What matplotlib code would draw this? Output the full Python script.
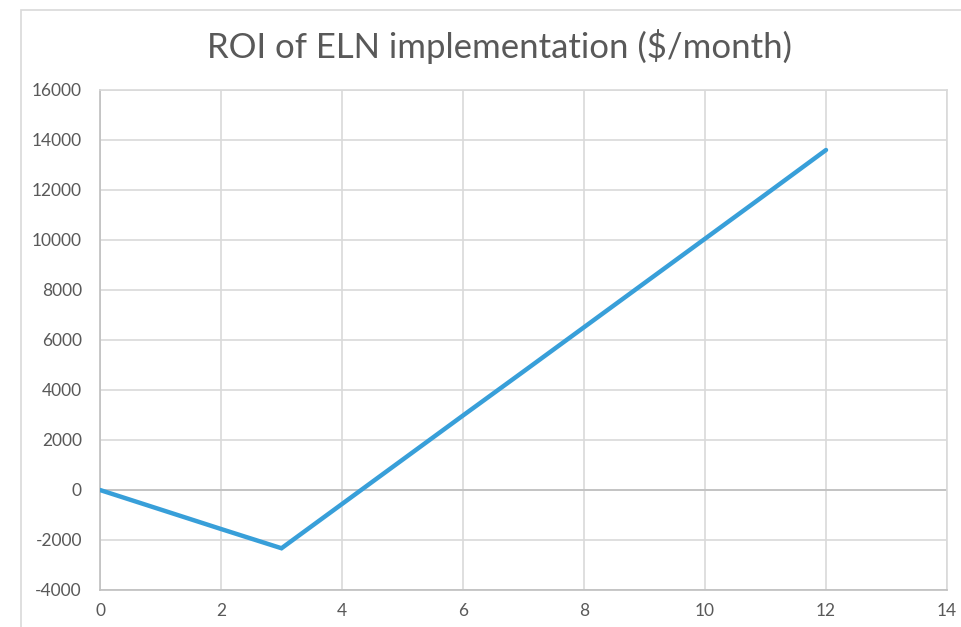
import matplotlib
matplotlib.use("Agg")
import matplotlib.pyplot as plt
from matplotlib.patches import Rectangle

# ROI per month after ELN rollout
months = [0, 1, 2, 3, 4, 5, 6, 7, 8, 9, 10, 11, 12]
roi = [0, -780, -1560, -2330, -560, 1210, 2980, 4740, 6510, 8280, 10050, 11820, 13600]

x_ticks = [0, 2, 4, 6, 8, 10, 12, 14]
y_ticks = [-4000, -2000, 0, 2000, 4000, 6000, 8000, 10000, 12000, 14000, 16000]

plt.rcParams["font.family"] = ["Lato", "DejaVu Sans"]
plt.rcParams["axes.unicode_minus"] = False

text_color = "#595959"
grid_color = "#d9d9d9"

fig = plt.figure(figsize=(9.61, 6.27), dpi=100)
fig.patch.set_facecolor("white")

# chart area border (cropped on the right and bottom in the reference)
fig.patches.append(Rectangle((21 / 961, -0.1), 1.2, 1.1 - 10 / 627,
                             transform=fig.transFigure, fill=False,
                             edgecolor="#d9d9d9", linewidth=1.2))

ax = fig.add_axes([100 / 961, 1 - 590 / 627, 847 / 961, 500 / 627])
ax.plot(months, roi, color="#389fd9", linewidth=3.2, solid_capstyle="round",
        solid_joinstyle="miter", zorder=3)

ax.set_xlim(0, 14)
ax.set_ylim(-4000, 16000)
ax.set_xticks(x_ticks)
ax.set_yticks(y_ticks)
ax.grid(True, color=grid_color, linewidth=1.2)
ax.set_axisbelow(True)
ax.axhline(0, color="#bfbfbf", linewidth=1.2, zorder=2)
for spine in ax.spines.values():
    spine.set_color(grid_color)
    spine.set_linewidth(1.2)
ax.spines["left"].set_color("#bfbfbf")
ax.spines["bottom"].set_color("#bfbfbf")

ax.tick_params(length=0, labelsize=12.5, colors=text_color)
ax.tick_params(axis="y", pad=13)
ax.tick_params(axis="x", pad=9)

fig.text(500 / 961, 1 - 47 / 627, "ROI of ELN implementation ($/month)",
         ha="center", va="center", fontsize=25, color=text_color)

fig.savefig("out.png", dpi=100)
plt.close(fig)
